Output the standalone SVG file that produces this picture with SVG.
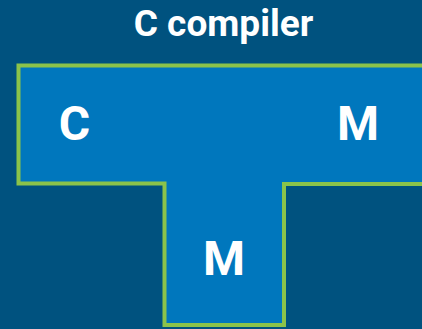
<svg xmlns="http://www.w3.org/2000/svg" width="422" height="329" viewBox="0 0 422 329">
  <style>
    .lbl { font-family: Roboto, "Liberation Sans", sans-serif; font-weight: bold; fill: #ffffff; text-anchor: middle; }
    .title { font-size: 37px; }
    .big { font-size: 48px; }
    .tee { fill: #0077bd; stroke: #8bc34a; stroke-width: 4; stroke-linejoin: miter; }
  </style>
  <rect x="0" y="0" width="422" height="329" fill="#00527f"/>
  <text class="lbl title" x="223.5" y="35.5">C compiler</text>
  <g id="compiler">
    <!-- T-shaped outline: wide top bar running off the right edge, narrow stem below -->
    <path class="tee" d="M18.5 65.5 H440 V184 H284 V325 H164.5 V183.5 H18.5 Z"/>
    <text class="lbl big" x="74.5" y="140">C</text>
    <text class="lbl big" x="358" y="140">M</text>
    <text class="lbl big" x="224" y="275">M</text>
  </g>
</svg>
